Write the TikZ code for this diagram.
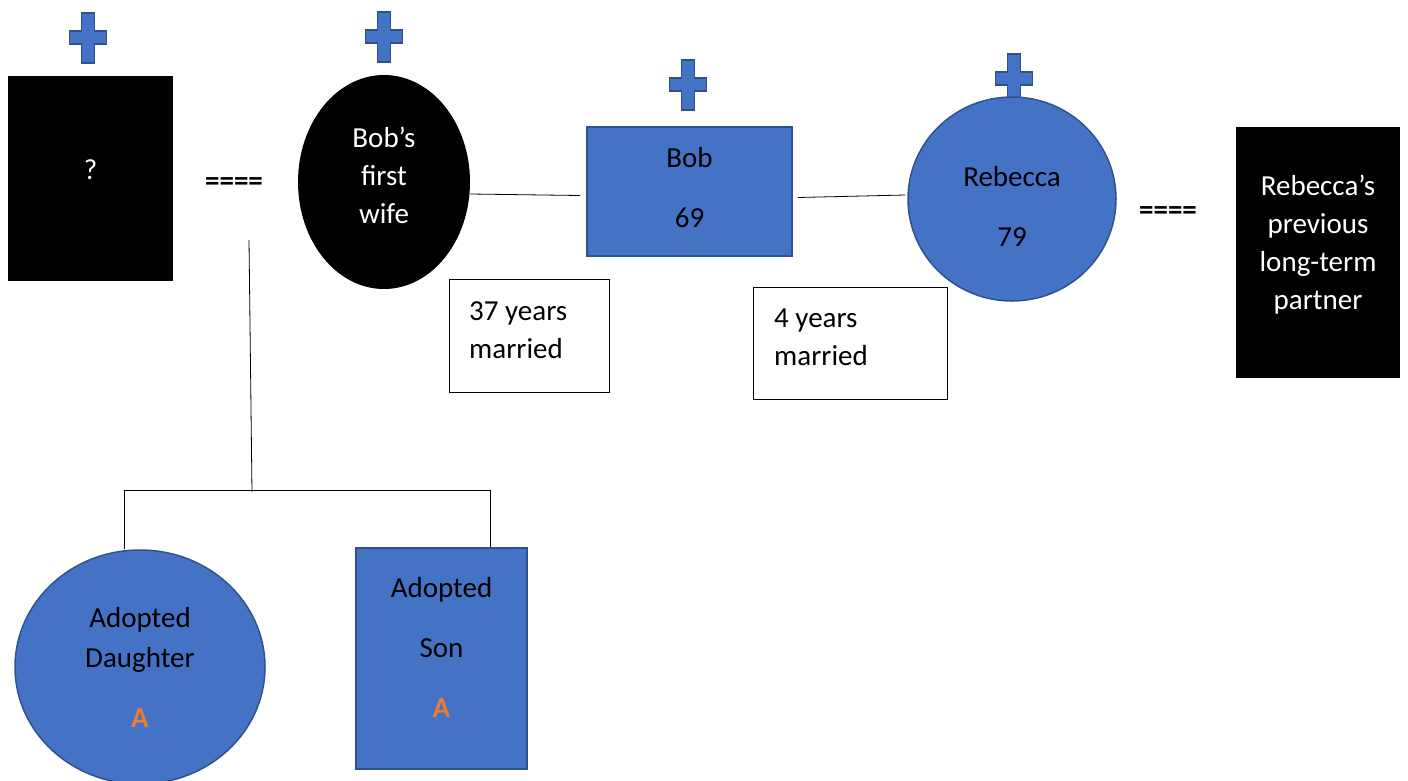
\documentclass[tikz,border=0pt]{standalone}
\usepackage{fontspec}
\setmainfont{Carlito}
\usetikzlibrary{shapes.geometric}

\definecolor{famblue}{HTML}{4472C4}
\definecolor{famedge}{HTML}{2F528F}
\definecolor{adopt}{HTML}{ED7D31}

\tikzset{
  person/.style={fill=famblue, draw=famedge, line width=1.5pt, inner sep=0pt},
  unknown/.style={fill=black, inner sep=0pt},
  note/.style={draw=black, line width=1pt, anchor=north west, inner sep=0pt},
  txt/.style={align=center, inner sep=0pt},
  whitetxt/.style={txt, text=white},
  notetxt/.style={align=left, anchor=west, inner sep=0pt},
  link/.style={line width=0.8pt}
}
\newcommand{\adoptmark}{\textcolor{adopt}{\bfseries A}}

\begin{document}
\begin{tikzpicture}[x=1pt, y=-1pt, font=\fontsize{29}{38}\selectfont]

	\useasboundingbox (0,0) rectangle (1408,780);

            % crosses over the deceased
            \foreach \cx/\cy in {88/13, 384/12, 688/60, 1014/54}{
              \filldraw[fill=famblue, draw=famedge, line width=1.5pt]
                (\cx-6.5,\cy) -- (\cx+6.5,\cy) -- (\cx+6.5,\cy+18) -- (\cx+18.5,\cy+18)
                -- (\cx+18.5,\cy+31) -- (\cx+6.5,\cy+31) -- (\cx+6.5,\cy+50) -- (\cx-6.5,\cy+50)
                -- (\cx-6.5,\cy+31) -- (\cx-18.5,\cy+31) -- (\cx-18.5,\cy+18) -- (\cx-6.5,\cy+18) -- cycle;
            }

            % top row
            \node[unknown, rectangle, minimum width=165pt, minimum height=205pt] (unk) at (90.5,178.5) {};
            \node[whitetxt] (unktxt) at ([yshift=9pt]unk.center) {?};
            \node (eqL) at (234,184) {\bfseries ====};
            \node[unknown, ellipse, minimum width=172pt, minimum height=214pt] (wife) at (384,182) {};
            \node[whitetxt] (wifetxt) at ([yshift=7pt]wife.center) {Bob’s\\first\\wife};
            \node[person, rectangle, minimum width=205pt, minimum height=129pt] (bob) at (689.5,191.5) {};
            \node[txt] (bobtxt) at ([yshift=4pt]bob.center) {Bob\\[22pt]69};
            \node[person, ellipse, minimum width=208pt, minimum height=204pt] (reb) at (1012,199) {};
            \node[txt] (rebtxt) at ([yshift=-7pt]reb.center) {Rebecca\\[22pt]79};
            \node (eqR) at (1168,213) {\bfseries ====};
            \node[unknown, rectangle, minimum width=164pt, minimum height=251pt] (prev) at (1318,252.5) {};
            \node[whitetxt] (prevtxt) at ([yshift=8pt]prev.center) {Rebecca’s\\previous\\long-term\\partner};

            % years married
            \node[note, minimum width=160pt, minimum height=113pt] (m37) at (449,279) {};
            \node[notetxt] (m37txt) at ([xshift=20pt,yshift=6pt]m37.west) {37 years\\married};
            \node[note, minimum width=194pt, minimum height=112pt] (m4) at (753,287) {};
            \node[notetxt] (m4txt) at ([xshift=21pt,yshift=6pt]m4.west) {4 years\\married};

            \draw[link] ([yshift=-12pt]wife.east) -- ([xshift=-6pt,yshift=-4pt]bob.west);
            \draw[link] ([xshift=5pt,yshift=-6pt]bob.east) -- ([xshift=-2pt,yshift=4pt]reb.west);

            % children
            \node[person, ellipse, minimum width=250pt, minimum height=234pt] (dau) at (140,667) {};
            \node[txt] (dautxt) at (dau.center) {Adopted\\[2pt]Daughter\\[22pt]\adoptmark};
            \node[person, rectangle, minimum width=171pt, minimum height=221pt] (son) at (441.5,658.5) {};
            \node[txt] (sontxt) at ([yshift=11pt]son.center) {Adopted\\[22pt]Son\\[22pt]\adoptmark};

            \coordinate (stem) at (249,240);
            \coordinate (fork) at (252,492);
            \coordinate (barL) at (124,490);
            \draw[link] (stem) -- (fork);
            \draw[link] ([xshift=-16pt]dau.north) -- (barL) -| ([xshift=48.5pt]son.north);

        \end{tikzpicture}
\end{document}
